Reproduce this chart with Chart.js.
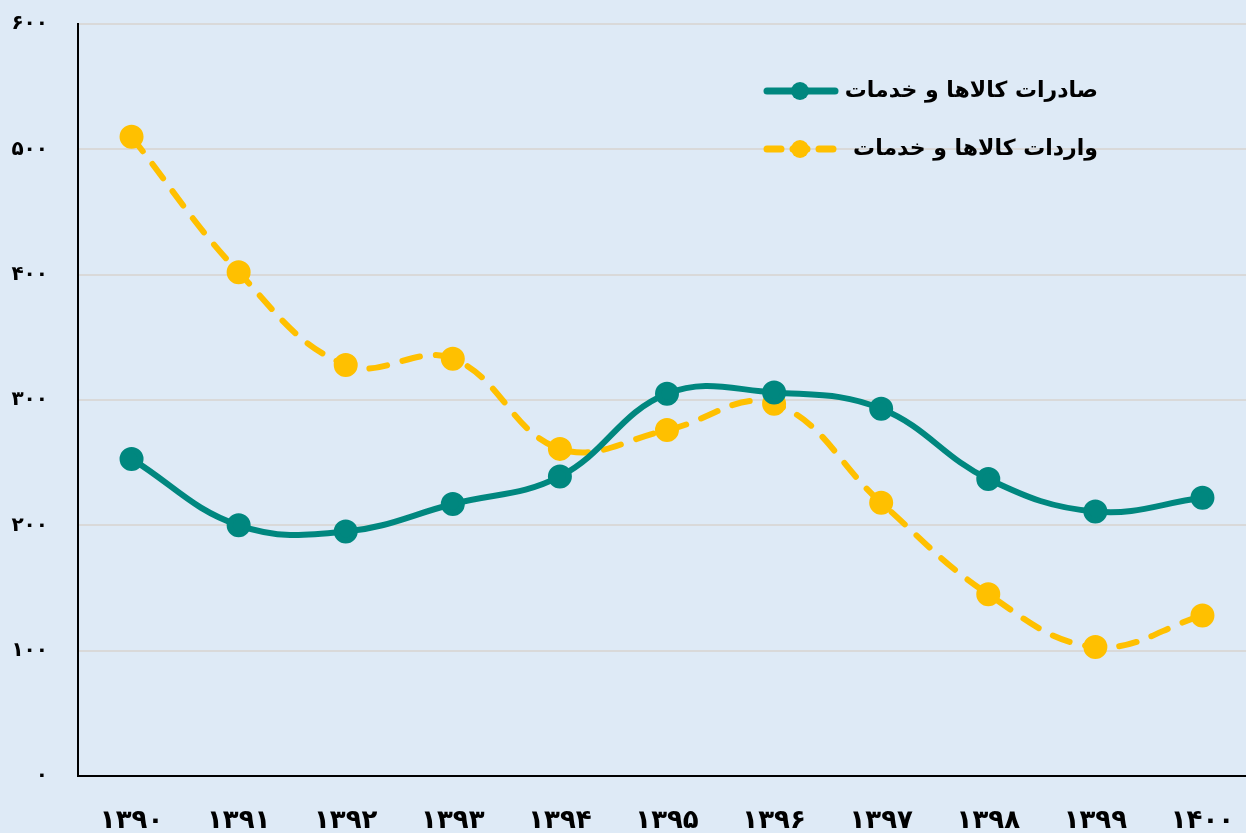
<!DOCTYPE html>
<html>
<head>
<meta charset="utf-8">
<script src="https://cdn.jsdelivr.net/npm/chart.js@4"></script>
<style>
    html, body { margin: 0; padding: 0; overflow: hidden; background: #deeaf6; }
    .wrap { width: 1271px; height: 833px; }
</style>
</head>
<body>
<div class="wrap"><canvas id="lineChart" width="1271" height="833"></canvas></div>
<script>
// data
const years = ['1390', '1391', '1392', '1393', '1394', '1395', '1396', '1397', '1398', '1399', '1400'];
const exportsVals = [253, 200, 195, 217, 239, 305, 306, 293, 237, 211, 222];
const importsVals = [510, 402, 328, 333, 261, 276, 297, 218, 145, 103, 128];
const yTicks = [0, 100, 200, 300, 400, 500, 600];
const seriesNames = ['صادرات کالاها و خدمات', 'واردات کالاها و خدمات'];

const faDigits = '۰۱۲۳۴۵۶۷۸۹';
const toFa = s => String(s).replace(/\d/g, d => faDigits[d]);

const teal = '#00877f';
const yellow = '#ffc000';
const fontFam = "'DejaVu Sans', sans-serif";

// legend drawn inside plot, top right
const insideLegend = {
    id: 'insideLegend',
    afterDraw(chart) {
        const ctx = chart.ctx;
        const rows = [91, 149];
        chart.data.datasets.forEach((ds, i) => {
            const y = rows[i];
            ctx.save();
            ctx.strokeStyle = ds.borderColor;
            ctx.lineWidth = 7;
            ctx.lineCap = 'round';
            ctx.setLineDash(ds.borderDash ? [14, 12] : []);
            ctx.beginPath();
            ctx.moveTo(767, y);
            ctx.lineTo(835, y);
            ctx.stroke();
            ctx.setLineDash([]);
            ctx.fillStyle = ds.pointBackgroundColor;
            ctx.beginPath();
            ctx.arc(800, y, 9, 0, Math.PI * 2);
            ctx.fill();
            ctx.fillStyle = '#000';
            ctx.font = 'bold 22px ' + fontFam;
            ctx.textAlign = 'right';
            ctx.textBaseline = 'middle';
            ctx.direction = 'rtl';
            ctx.fillText(ds.label, 1098, y);
            ctx.restore();
        });
    }
};

const ctxLine = document.getElementById('lineChart').getContext('2d');
const lineChart = new Chart(ctxLine, {
    type: 'line',
    data: {
        labels: years.map(toFa),
        datasets: [{
            label: seriesNames[0],
            data: exportsVals,
            borderColor: teal,
            backgroundColor: teal,
            pointBackgroundColor: teal,
            pointBorderColor: teal,
            borderWidth: 6,
            pointRadius: 9,
            pointHoverRadius: 9,
            tension: 0.4
        }, {
            label: seriesNames[1],
            data: importsVals,
            borderColor: yellow,
            backgroundColor: yellow,
            pointBackgroundColor: yellow,
            pointBorderColor: yellow,
            borderWidth: 6,
            borderDash: [18, 16],
            borderCapStyle: 'round',
            pointRadius: 9,
            pointHoverRadius: 9,
            tension: 0.4
        }]
    },
    options: {
        responsive: false,
        animation: false,
        layout: { padding: { top: 24, right: 0, left: 0, bottom: 0 } },
        plugins: {
            legend: { display: false },
            tooltip: { enabled: false }
        },
        scales: {
            x: {
                offset: true,
                grid: { display: false, drawTicks: false },
                border: { display: true, color: '#000', width: 2 },
                ticks: {
                    padding: 30,
                    color: '#000',
                    font: { family: fontFam, size: 26, weight: 'bold' },
                    maxRotation: 0
                },
                afterFit: scale => { scale.height = 57; }
            },
            y: {
                min: 0,
                max: 600,
                afterBuildTicks: scale => { scale.ticks = yTicks.map(v => ({ value: v })); },
                grid: { color: '#d9d9d9', lineWidth: 2, drawTicks: false },
                border: { display: true, color: '#000', width: 2 },
                ticks: {
                    padding: 30,
                    color: '#000',
                    font: { family: fontFam, size: 20, weight: 'bold' },
                    callback: v => toFa(v)
                },
                afterFit: scale => {
                    scale.width = 78;
                    scale.paddingTop = 0;
                    scale.paddingBottom = 0;
                }
            }
        }
    },
    plugins: [insideLegend]
});
</script>
</body>
</html>
